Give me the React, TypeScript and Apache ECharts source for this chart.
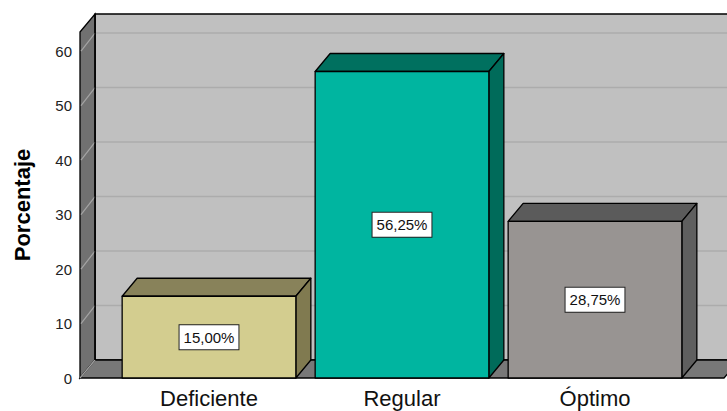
import React, { useEffect, useRef } from "react";
import * as echarts from "echarts";

const categories = ["Deficiente", "Regular", "Óptimo"];
const values = [15, 56.25, 28.75];
const yTicks = [0, 10, 20, 30, 40, 50, 60];
const yMax = 63.5;
const frontColors = ["#d3cd8f", "#00b5a0", "#989492"];
const topColors = ["#88825a", "#00705f", "#5b5b5b"];
const sideColors = ["#807a50", "#006b5a", "#5f5f5f"];

const DX = 15;
const DY = -18;
const PAD = 32.5;
const FONT = "'Liberation Sans', Arial, sans-serif";

function fmt(v: number) {
  return v.toFixed(2).replace(".", ",") + "%";
}

export default function App() {
  const ref = useRef<HTMLDivElement>(null);
  useEffect(() => {
    document.body.style.margin = "0";
    const chart = echarts.init(ref.current!, null, { renderer: "svg" });
    const gridLeft = 112.5;
    const gridRight = 35.5;
    const gridTop = 32;
    const gridBottom = 33;
    chart.setOption({
      animation: false,
      backgroundColor: "#ffffff",
      grid: { left: gridLeft, right: gridRight, top: gridTop, bottom: gridBottom },
      xAxis: {
        type: "category",
        data: categories,
        axisLine: { show: false },
        axisTick: { show: false },
        axisLabel: { fontSize: 22, color: "#111", fontFamily: FONT, margin: 9 },
      },
      yAxis: {
        type: "value",
        min: 0,
        max: yMax,
        interval: 10,
        offset: PAD,
        axisLine: { show: false },
        axisTick: { show: false },
        splitLine: { show: false },
        axisLabel: {
          fontSize: 15,
          color: "#222",
          fontFamily: FONT,
          margin: 8,
          formatter: (v: number) => (yTicks.indexOf(v) >= 0 ? String(v) : ""),
        },
        name: "Porcentaje",
        nameLocation: "middle",
        nameGap: 47,
        nameTextStyle: { fontSize: 22, fontWeight: "bold", color: "#000", fontFamily: FONT },
      },
      series: [
        {
          type: "custom",
          data: values.map((v, i) => [i, v]),
          encode: { x: 0, y: 1 },
          z: 5,
          renderItem: (params: any, api: any) => {
            const idx = api.value(0);
            const val = api.value(1);
            const base = api.coord([idx, 0]);
            const top = api.coord([idx, val]);
            const band = api.size([1, 0])[0];
            const w = band * 0.9;
            const x0 = base[0] - w / 2;
            const x1 = base[0] + w / 2;
            const yb = base[1];
            const yt = top[1];
            const i = params.dataIndex;
            const stroke = { stroke: "#000", lineWidth: 1.3, lineJoin: "round" };
            return {
              type: "group",
              children: [
                {
                  type: "polygon",
                  shape: { points: [[x0, yt], [x0 + DX, yt + DY], [x1 + DX, yt + DY], [x1, yt]] },
                  style: { fill: topColors[i], ...stroke },
                },
                {
                  type: "polygon",
                  shape: { points: [[x1, yt], [x1 + DX, yt + DY], [x1 + DX, yb + DY], [x1, yb]] },
                  style: { fill: sideColors[i], ...stroke },
                },
                {
                  type: "rect",
                  shape: { x: x0, y: yt, width: w, height: yb - yt },
                  style: { fill: frontColors[i], ...stroke },
                },
                {
                  type: "text",
                  x: base[0],
                  y: (yt + yb) / 2,
                  style: {
                    text: fmt(val),
                    fontSize: 15,
                    fontFamily: FONT,
                    fill: "#111",
                    align: "center",
                    verticalAlign: "middle",
                    backgroundColor: "#ffffff",
                    borderColor: "#222",
                    borderWidth: 1,
                    padding: [5, 4, 4, 4],
                  },
                },
              ],
            };
          },
        },
      ],
    });

    const yPx = (v: number) => chart.convertToPixel({ yAxisIndex: 0 }, v) as number;
    const W = chart.getWidth();
    const xL = gridLeft - PAD;
    const xR = W - gridRight + PAD;
    const y0 = yPx(0);
    const yT = yPx(yMax);
    const g: any[] = [];
    g.push({
      type: "rect",
      z: 0,
      shape: { x: xL + DX, y: yT + DY, width: xR - xL + 10, height: y0 - yT },
      style: { fill: "#c0c0c0", stroke: "#000", lineWidth: 1.3 },
    });
    yTicks.forEach((t) => {
      if (t === 0) return;
      const y = yPx(t);
      g.push({
        type: "line",
        z: 1,
        shape: { x1: xL + DX + 1, y1: y + DY, x2: xR + DX + 10, y2: y + DY },
        style: { stroke: "#acacac", lineWidth: 1.5 },
      });
    });
    g.push({
      type: "polygon",
      z: 1,
      shape: { points: [[xL, yT], [xL + DX, yT + DY], [xL + DX, y0 + DY], [xL, y0]] },
      style: { fill: "#717171", stroke: "#000", lineWidth: 1.3 },
    });
    yTicks.forEach((t) => {
      const y = yPx(t);
      g.push({
        type: "line",
        z: 2,
        shape: { x1: xL + 1, y1: y, x2: xL + DX, y2: y + DY },
        style: { stroke: "#a4a4a4", lineWidth: 1.2 },
      });
    });
    g.push({
      type: "polygon",
      z: 2,
      shape: { points: [[xL, y0], [xL + DX, y0 + DY], [xR + DX, y0 + DY], [xR, y0]] },
      style: { fill: "#787878", stroke: "#000", lineWidth: 1.3 },
    });
    g.push({
      type: "line",
      z: 3,
      shape: { x1: xL, y1: y0, x2: xL + DX, y2: y0 + DY },
      style: { stroke: "#a4a4a4", lineWidth: 1.2 },
    });
    g.push({
      type: "line",
      z: 3,
      shape: { x1: xL + DX, y1: yT + DY, x2: xL + DX, y2: y0 + DY },
      style: { stroke: "#000", lineWidth: 1.3 },
    });
    chart.setOption({ graphic: g });
    return () => chart.dispose();
  }, []);
  return (
    <div
      ref={ref}
      style={{ width: 727, height: 411, position: "absolute", left: 0, top: 0 }}
    />
  );
}
